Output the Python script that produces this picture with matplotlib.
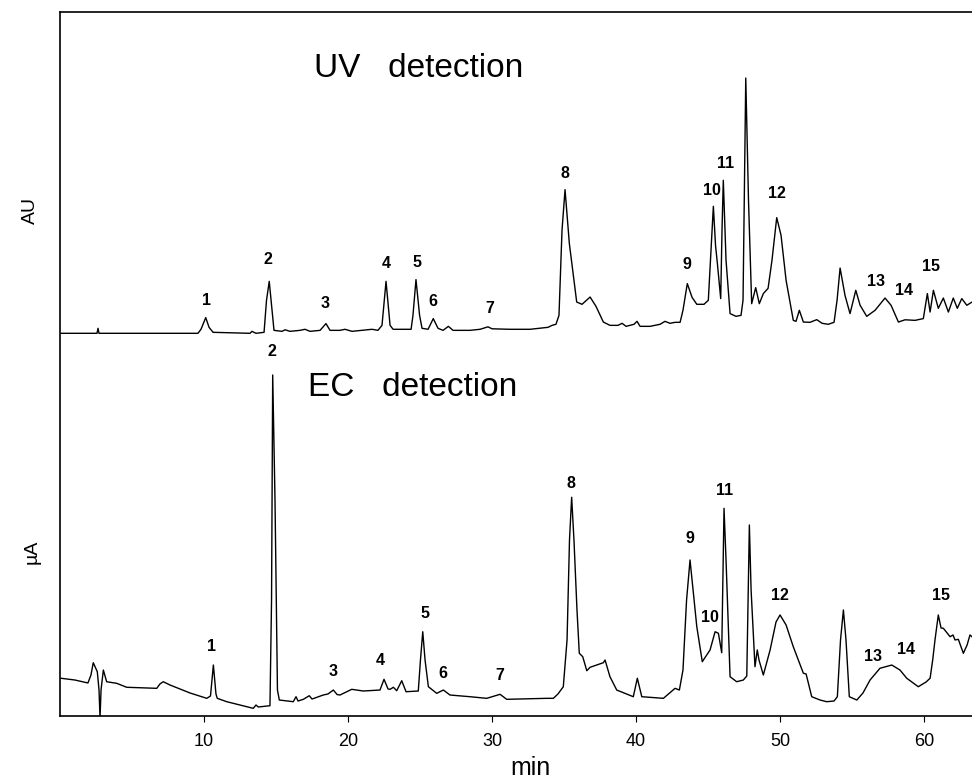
import matplotlib
matplotlib.use("Agg")
import matplotlib.pyplot as plt

plt.rcParams['font.family'] = ['Liberation Sans', 'DejaVu Sans']

# UV trace: retention time (min) and absorbance above its own baseline (a.u.)
uv_time = [0.07, 2.57, 2.64, 2.71, 9.58, 9.79, 10.12, 10.35, 10.63, 13.19, 13.33, 13.61,
           14.17, 14.34, 14.53, 14.69, 14.86, 15.42, 15.63, 15.97, 16.67, 17.01, 17.36,
           18.06, 18.47, 18.75, 19.44, 19.79, 20.28, 20.97, 21.67, 22.08, 22.36, 22.64,
           22.92, 23.13, 24.38, 24.51, 24.72, 24.97, 25.14, 25.56, 25.92, 26.25, 26.60,
           26.97, 27.29, 28.47, 29.17, 29.72, 30.00, 31.25, 32.64, 33.89, 34.17, 34.44,
           34.65, 34.86, 35.07, 35.24, 35.37, 35.56, 35.88, 36.25, 36.81, 37.22, 37.73,
           38.19, 38.75, 39.03, 39.31, 39.86, 40.07, 40.28, 40.97, 41.67, 42.01, 42.36,
           42.71, 43.06, 43.26, 43.56, 43.89, 44.22, 44.72, 45.02, 45.21, 45.37, 45.52,
           45.65, 45.88, 45.97, 46.06, 46.25, 46.53, 46.94, 47.29, 47.43, 47.62, 47.81,
           48.03, 48.31, 48.56, 48.84, 49.17, 49.44, 49.77, 50.07, 50.42, 50.92, 51.11,
           51.34, 51.62, 52.08, 52.55, 52.92, 53.35, 53.75, 53.96, 54.17, 54.51, 54.86,
           55.26, 55.56, 56.02, 56.60, 57.29, 57.71, 58.22, 58.68, 59.38, 59.95, 60.23,
           60.42, 60.65, 60.99, 61.34, 61.69, 62.03, 62.31, 62.62, 62.97, 63.33]
uv_signal = [-0.14, -0.14, 0.57, -0.14, -0.14, 0.43, 2.09, 0.71, 0.0, -0.14, 0.14, -0.14,
             0.0, 4.55, 7.24, 3.84, 0.28, 0.14, 0.36, 0.14, 0.28, 0.43, 0.14,
             0.28, 1.24, 0.28, 0.28, 0.43, 0.14, 0.28, 0.43, 0.28, 0.99, 7.24,
             0.99, 0.43, 0.43, 2.41, 7.49, 2.41, 0.57, 0.43, 1.95, 0.57, 0.28,
             0.85, 0.28, 0.28, 0.43, 0.78, 0.50, 0.43, 0.43, 0.71, 0.99, 1.14,
             2.41, 14.49, 20.27, 15.91, 12.60, 9.52, 4.30, 3.98, 5.01, 3.69, 1.46,
             0.99, 0.99, 1.28, 0.85, 1.14, 1.56, 0.85, 0.85, 1.14, 1.56, 1.28,
             1.42, 1.42, 3.13, 6.92, 4.97, 3.98, 3.98, 4.55, 11.65, 17.90, 12.36,
             9.76, 4.79, 14.49, 21.59, 10.23, 2.66, 2.27, 2.41, 4.55, 36.12, 18.75,
             4.07, 6.35, 4.07, 5.50, 6.25, 10.23, 16.29, 13.78, 7.39, 1.70, 1.56,
             3.13, 1.46, 1.42, 1.80, 1.28, 1.14, 1.42, 4.55, 9.13, 5.26, 2.66,
             5.97, 3.84, 2.27, 3.13, 4.87, 3.84, 1.46, 1.78, 1.70, 1.95, 5.50,
             2.88, 5.97, 3.41, 4.87, 2.88, 4.87, 3.41, 4.79, 3.84, 4.30]
uv_offset = 54.5

# EC trace: retention time (min) and current (a.u.)
ec_time = [0.07, 1.04, 1.94, 2.15, 2.31, 2.47, 2.59, 2.71, 2.78, 2.85, 3.01, 3.24, 3.94,
           4.63, 6.72, 6.94, 7.17, 7.64, 9.03, 10.19, 10.45, 10.65, 10.83, 10.92, 11.58,
           13.42, 13.61, 13.77, 14.58, 14.69, 14.77, 14.93, 15.10, 15.23, 16.20, 16.39,
           16.53, 16.90, 17.31, 17.50, 18.28, 18.61, 18.98, 19.24, 19.44, 20.26, 21.06,
           22.22, 22.50, 22.78, 22.92, 23.15, 23.38, 23.73, 24.03, 24.88, 25.03, 25.19,
           25.35, 25.58, 26.16, 26.62, 27.08, 28.47, 29.63, 30.56, 31.02, 33.80, 34.26,
           34.58, 34.95, 35.21, 35.38, 35.53, 35.69, 35.90, 36.06, 36.30, 36.58, 36.81,
           37.73, 37.85, 38.19, 38.66, 39.81, 40.09, 40.40, 41.90, 42.71, 43.01, 43.26,
           43.51, 43.75, 43.96, 44.22, 44.60, 45.14, 45.49, 45.72, 45.95, 46.04, 46.11,
           46.25, 46.53, 46.99, 47.45, 47.69, 47.78, 47.87, 47.99, 48.26, 48.42, 48.54,
           48.84, 49.31, 49.72, 50.00, 50.42, 50.92, 51.62, 51.81, 52.20, 52.78, 53.24,
           53.75, 53.98, 54.20, 54.40, 54.58, 54.81, 55.33, 55.76, 56.25, 56.94, 57.76,
           58.33, 58.80, 59.60, 60.14, 60.42, 60.60, 60.76, 60.99, 61.18, 61.34, 61.81,
           62.01, 62.15, 62.38, 62.73, 62.99, 63.19, 63.33]
ec_signal = [5.36, 5.11, 4.69, 5.82, 7.57, 6.82, 6.29, 3.69, -0.28, 3.69, 6.53, 4.87, 4.64,
             4.08, 3.93, 4.55, 4.87, 4.40, 3.27, 2.51, 2.84, 7.24, 3.13, 2.51, 2.03,
             1.09, 1.56, 1.28, 1.46, 16.48, 48.44, 30.68, 3.69, 2.27, 2.03, 2.74,
             2.13, 2.37, 2.88, 2.41, 2.98, 3.13, 3.69, 3.05, 2.98, 3.79, 3.55,
             3.69, 5.21, 3.84, 3.79, 4.08, 3.59, 5.01, 3.45, 3.55, 7.95, 11.97,
             7.95, 4.16, 3.22, 3.69, 2.98, 2.74, 2.51, 3.08, 2.37, 2.51, 2.51,
             3.13, 4.16, 10.80, 25.00, 31.07, 25.00, 15.06, 8.91, 8.42, 6.43, 6.92,
             7.57, 7.95, 5.58, 3.69, 2.74, 5.36, 2.74, 2.51, 3.93, 3.69, 6.53,
             16.48, 22.16, 17.90, 12.68, 7.71, 9.38, 11.97, 11.75, 8.99, 20.74, 29.50,
             22.16, 5.58, 4.87, 5.11, 5.68, 16.48, 27.13, 17.90, 7.00, 9.38, 7.95,
             5.82, 9.38, 13.35, 14.35, 12.93, 9.84, 6.07, 5.97, 2.74, 2.27, 2.03,
             2.13, 2.74, 10.80, 15.06, 10.80, 2.74, 2.27, 3.27, 5.11, 6.78, 7.24,
             6.53, 5.36, 4.16, 4.83, 5.36, 7.95, 10.80, 14.35, 12.50, 12.46, 11.26,
             11.51, 10.80, 10.89, 8.91, 10.09, 11.51, 11.26]

# peak numbers and where they are written
peak_ids = [str(i) for i in range(1, 16)]
uv_label_x = [10.19, 14.47, 18.40, 22.64, 24.77, 25.92, 29.86, 35.07, 43.52, 45.30,
              46.25, 49.77, 56.65, 58.61, 60.47]
uv_label_y = [58.95, 64.87, 58.62, 64.30, 64.39, 58.85, 57.91, 77.13, 64.20, 74.62,
              78.51, 74.25, 61.69, 60.41, 63.82]
ec_label_x = [10.53, 14.70, 18.94, 22.22, 25.35, 26.62, 30.56, 35.47, 43.75, 45.14,
              46.18, 50.00, 56.44, 58.75, 61.18]
ec_label_y = [9.94, 51.75, 6.29, 7.95, 14.59, 6.07, 5.82, 33.05, 25.24, 14.02,
              32.00, 17.05, 8.42, 9.47, 17.05]

fig = plt.figure(figsize=(9.72, 7.83), dpi=100)
ax = fig.add_axes([60 / 972, 67 / 783, 912 / 972, 704 / 783])

ax.plot(uv_time, [s + uv_offset for s in uv_signal], color='black', lw=1.0)
ax.plot(ec_time, ec_signal, color='black', lw=1.0)

for pid, x, y in zip(peak_ids, uv_label_x, uv_label_y):
    ax.text(x, y, pid, ha='center', va='center', fontsize=11.5, fontweight='bold')
for pid, x, y in zip(peak_ids, ec_label_x, ec_label_y):
    ax.text(x, y, pid, ha='center', va='center', fontsize=11.5, fontweight='bold')

ax.text(24.93, 92.0, 'UV   detection', ha='center', va='center', fontsize=24)
ax.text(24.5, 46.6, 'EC   detection', ha='center', va='center', fontsize=24)

ax.set_xlim(0, 63.33)
ax.set_ylim(0, 100)
ax.set_xticks([10, 20, 30, 40, 50, 60])
ax.set_yticks([])
ax.tick_params(axis='x', direction='out', length=4, labelsize=13, pad=8)
ax.spines['right'].set_visible(False)
for side in ['left', 'top', 'bottom']:
    ax.spines[side].set_linewidth(1.2)

# axis titles
fig.text(530 / 972, 1 - 775 / 783, 'min', ha='center', va='baseline', fontsize=18)
fig.text(30 / 972, 1 - 210 / 783, 'AU', rotation=90, ha='center', va='center', fontsize=14)
fig.text(32 / 972, 1 - 552 / 783, 'µA', rotation=90, ha='center', va='center', fontsize=14)

fig.savefig('out.png', dpi=100)
